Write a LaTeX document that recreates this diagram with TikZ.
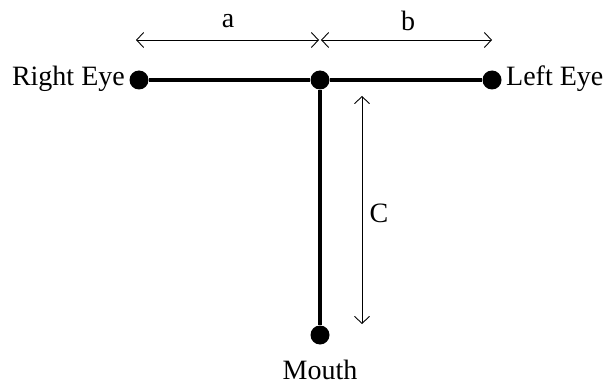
\documentclass[tikz,border=0pt]{standalone}
\usepackage{fontspec}
\setmainfont{Liberation Serif}
\usetikzlibrary{arrows.meta}
\begin{document}
\begin{tikzpicture}[x=1pt,y=-1pt,
  dot/.style={circle,fill=black,minimum size=19pt,inner sep=0pt},
  bar/.style={line width=4pt},
  dim/.style={line width=0.9pt,{Straight Barb[length=7pt,width=15pt]}-{Straight Barb[length=7pt,width=15pt]}},
  lbl/.style={font=\fontsize{28}{30}\selectfont,inner sep=1pt}]
\useasboundingbox (0,0) rectangle (613,385);
\node[dot] (re) at (139,80) {};
\node[dot] (ce) at (320,80) {};
\node[dot] (le) at (492,80) {};
\node[dot] (mo) at (320,335) {};
\draw[bar] (re) -- (ce) -- (le);
\draw[bar] (ce) -- (mo);
\node[lbl,anchor=east] (ret) at (126,79) {Right Eye};
\node[lbl,anchor=west] (let) at (505,79) {Left Eye};
\node[lbl] (mot) at (320,370) {Mouth};
\coordinate (a1) at (136,40);
\coordinate (a2) at (319,40);
\coordinate (b1) at (321,40);
\coordinate (b2) at (492,40);
\coordinate (c1) at (362,96);
\coordinate (c2) at (362,324);
\draw[dim] (a1) -- (a2);
\draw[dim] (b1) -- (b2);
\draw[dim] (c1) -- (c2);
\node[lbl] (la) at (228,21) {a};
\node[lbl] (lb) at (408,21) {b};
\node[lbl] (lc) at (379,213) {C};
\end{tikzpicture}
\end{document}
